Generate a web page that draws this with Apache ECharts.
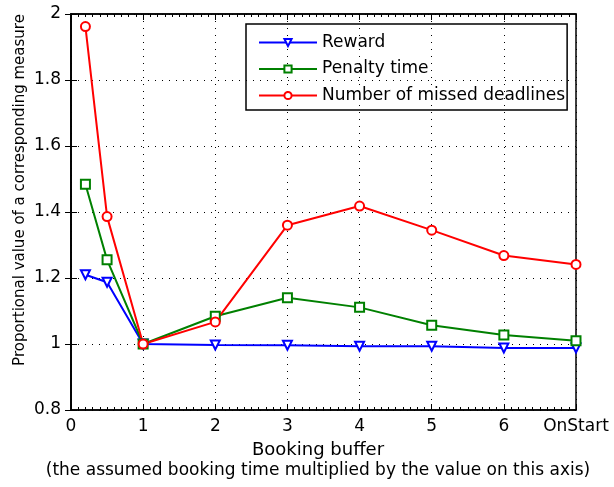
<!DOCTYPE html>
<html><head><meta charset="utf-8">
<script src="https://cdn.jsdelivr.net/npm/echarts@6/dist/echarts.min.js"></script>
<style>html,body{margin:0;padding:0;background:#fff}#c{width:614px;height:487px}</style>
</head><body><div id="c"></div>
<script>
const xValues = [0.2, 0.5, 1, 2, 3, 4, 5, 6, 7];
const xTickLabels = {0:'0',1:'1',2:'2',3:'3',4:'4',5:'5',6:'6',7:'OnStart'};
const reward = [1.21, 1.187, 1.0, 0.997, 0.996, 0.993, 0.993, 0.988, 0.988];
const penalty = [1.484, 1.255, 1.0, 1.084, 1.140, 1.111, 1.057, 1.027, 1.010];
const missed = [1.962, 1.386, 1.0, 1.067, 1.360, 1.418, 1.345, 1.268, 1.241];
const seriesNames = ['Reward', 'Penalty time', 'Number of missed deadlines'];
const xTitle = 'Booking buffer';
const xSubTitle = '(the assumed booking time multiplied by the value on this axis)';
const yTitle = 'Proportional value of a corresponding measure';

const font = 'DejaVu Sans';
const chart = echarts.init(document.getElementById('c'));
const pairs = arr => xValues.map((x, i) => [x, arr[i]]);
function mk(name, data, color, symbol, rotate) {
  return {
    name, type: 'line', data: pairs(data), xAxisIndex: 0, yAxisIndex: 0,
    symbol, symbolSize: 9, symbolRotate: rotate || 0, showAllSymbol: true,
    lineStyle: {color, width: 2}, itemStyle: {color, borderColor: color, borderWidth: 1.8},
    emphasis: {disabled: true}, animation: false
  };
}
const tickCommon = {inside: true, length: 6, lineStyle: {color: '#000', width: 1}};
const minorCommon = {show: true, splitNumber: 10, length: 3, lineStyle: {color: '#000', width: 1}};
chart.setOption({
  animation: false,
  grid: {left: 71, top: 14, right: 38, bottom: 77, show: true, borderColor: '#000', borderWidth: 1.5, backgroundColor: 'transparent'},
  legend: {
    orient: 'vertical', left: 246, top: 24,
    borderColor: '#000', borderWidth: 1.5, padding: [10, 2, 6, 12], itemGap: 9.5,
    itemWidth: 58, itemHeight: 9,
    textStyle: {fontFamily: font, fontSize: 17, color: '#000'},
    data: seriesNames
  },
  xAxis: [
    {type: 'value', min: 0, max: 7, interval: 1, position: 'bottom',
     axisLine: {show: true, lineStyle: {color: '#000', width: 1.5}},
     axisTick: tickCommon, minorTick: minorCommon,
     axisLabel: {fontFamily: font, fontSize: 17, color: '#000', margin: 8, formatter: v => xTickLabels[v] ?? ''},
     splitLine: {show: true, lineStyle: {color: '#000', type: [1, 6], width: 1}},
     minorSplitLine: {show: false}},
    {type: 'value', min: 0, max: 7, interval: 1, position: 'top',
     axisLine: {show: true, lineStyle: {color: '#000', width: 1.5}},
     axisTick: tickCommon, minorTick: minorCommon, axisLabel: {show: false}, splitLine: {show: false}}
  ],
  yAxis: [
    {type: 'value', min: 0.8, max: 2, interval: 0.2, position: 'left',
     axisLine: {show: true, lineStyle: {color: '#000', width: 1.5}},
     axisTick: tickCommon,
     axisLabel: {fontFamily: font, fontSize: 17, color: '#000', margin: 10, formatter: v => String(+v.toFixed(1))},
     splitLine: {show: true, lineStyle: {color: '#000', type: [1, 6], width: 1}}},
    {type: 'value', min: 0.8, max: 2, interval: 0.2, position: 'right',
     axisLine: {show: true, lineStyle: {color: '#000', width: 1.5}},
     axisTick: tickCommon, axisLabel: {show: false}, splitLine: {show: false}}
  ],
  series: [
    mk(seriesNames[0], reward, '#0000ff', 'emptyTriangle', 180),
    mk(seriesNames[1], penalty, '#008000', 'emptyRect'),
    mk(seriesNames[2], missed, '#ff0000', 'emptyCircle')
  ],
  graphic: [
    {type: 'text', x: 318, y: 450, style: {text: xTitle, font: '18px "DejaVu Sans"', fill: '#000', align: 'center', verticalAlign: 'middle'}},
    {type: 'text', x: 318, y: 471, style: {text: xSubTitle, font: '17px "DejaVu Sans"', fill: '#000', align: 'center', verticalAlign: 'middle'}},
    {type: 'text', x: 20, y: 190, rotation: Math.PI / 2, style: {text: yTitle, font: '15px "DejaVu Sans"', fill: '#000', align: 'center', verticalAlign: 'middle'}}
  ]
});
</script></body></html>
